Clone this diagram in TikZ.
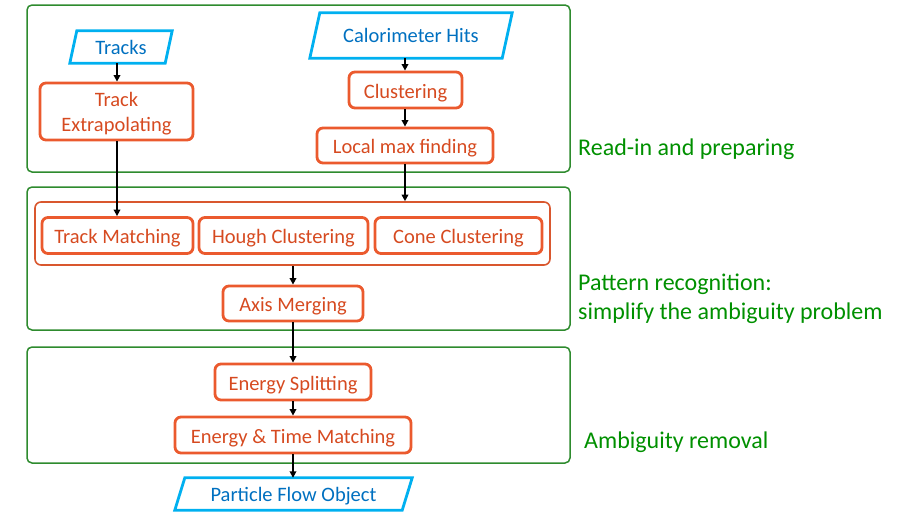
\documentclass[tikz,border=0pt]{standalone}
\usepackage{fontspec}
\setmainfont{Carlito}
\usetikzlibrary{arrows.meta}
\definecolor{procred}{HTML}{EB5A2E}
\definecolor{proctext}{HTML}{D64A20}
\definecolor{grpred}{HTML}{D9572E}
\definecolor{ioblue}{HTML}{00B0F0}
\definecolor{iotext}{HTML}{0070C0}
\definecolor{stagegreen}{HTML}{2E8B2E}
\definecolor{stagetext}{HTML}{009000}
\tikzset{
  proc/.style={draw=procred, line width=2.8pt, rounded corners=6pt, text=proctext,
    font=\fontsize{20.5}{24.5}\selectfont, inner sep=0pt, align=center},
  oneline/.style={text height=19pt, text depth=3pt},
  iobox/.style={draw=none, text=iotext, font=\fontsize{20.5}{24}\selectfont, inner sep=0pt,
    text height=18pt, text depth=4pt},
  ioline/.style={draw=ioblue, line width=2.8pt, line join=miter},
  stage/.style={draw=stagegreen, line width=1.5pt, rounded corners=5pt},
  group/.style={draw=grpred, line width=1.6pt, rounded corners=6pt},
  stagelabel/.style={text=stagetext, font=\fontsize{24}{29}\selectfont, inner sep=0pt, align=left},
  flow/.style={draw=black, line width=1.9pt, -{Triangle[length=6.5pt,width=6.5pt]}}
}
\begin{document}
\begin{tikzpicture}[x=1pt,y=-1pt]
\useasboundingbox (0,0) rectangle (907,512);

% stage frames
\draw[stage] (27,5) rectangle (570,172);
\draw[stage] (27,187) rectangle (570,330);
\draw[stage] (27,347) rectangle (570,463);

% inputs and output (parallelograms)
\node[iobox, minimum width=95pt, minimum height=32pt] (tracks) at (121,47) {Tracks};
\node[iobox, minimum width=192pt, minimum height=45pt] (calo) at (411,35.5) {Calorimeter Hits};
\node[iobox, minimum width=227pt, minimum height=32pt] (pfo) at (293.5,494) {Particle Flow Object};
\foreach \n/\s in {tracks/3.5, calo/5, pfo/5}{
  \draw[ioline] ([xshift=\s pt]\n.north west) -- ([xshift=\s pt]\n.north east)
    -- ([xshift=-\s pt]\n.south east) -- ([xshift=-\s pt]\n.south west) -- cycle;
}

% read-in and preparing
\node[proc, minimum width=153pt, minimum height=57pt] (extrap) at (116.5,111.5) {\rule{0pt}{19pt}Track\\Extrapolating};
\node[proc, oneline, minimum width=113pt, minimum height=36pt] (clus) at (405.5,90) {Clustering};
\node[proc, oneline, minimum width=176pt, minimum height=35pt] (lmax) at (405,145.5) {Local max finding};

% pattern recognition
\node[group, minimum width=515pt, minimum height=63pt] (grp) at (292.5,233.5) {};
\node[proc, oneline, minimum width=151pt, minimum height=36pt] (tmatch) at (117.5,235.5) {Track Matching};
\node[proc, oneline, minimum width=169pt, minimum height=36pt] (hough) at (283.5,235.5) {Hough Clustering};
\node[proc, oneline, minimum width=167pt, minimum height=36pt] (cone) at (458.5,235.5) {Cone Clustering};
\node[proc, oneline, minimum width=140pt, minimum height=35pt] (axis) at (293,303.5) {Axis Merging};

% ambiguity removal
\node[proc, oneline, minimum width=156pt, minimum height=36pt] (esplit) at (293,382) {Energy Splitting};
\node[proc, oneline, minimum width=236pt, minimum height=36pt] (etmatch) at (293,435) {Energy \& Time Matching};

% stage labels
\node[stagelabel, anchor=base west] (lab1) at (578,155) {Read-in and preparing};
\node[stagelabel, anchor=north west] (lab2) at (578,274) {Pattern recognition:\\simplify the ambiguity problem};
\node[stagelabel, anchor=base west] (lab3) at (584,448) {Ambiguity removal};

% connectors
\draw[flow] (tracks.south -| 117,0) -- (extrap.north -| 117,0);
\draw[flow] (extrap.south -| 117,0) -- (tmatch.north -| 117,0);
\draw[flow] (calo.south -| 405,0) -- (clus.north -| 405,0);
\draw[flow] (clus.south -| 405,0) -- (lmax.north -| 405,0);
\draw[flow] (lmax.south -| 405,0) -- (grp.north -| 405,0);
\draw[flow] (grp.south -| axis.north) -- (axis.north);
\draw[flow] (axis.south) -- (esplit.north);
\draw[flow] (esplit.south) -- (etmatch.north);
\draw[flow] (etmatch.south) -- (etmatch.south |- pfo.north);
\end{tikzpicture}
\end{document}
